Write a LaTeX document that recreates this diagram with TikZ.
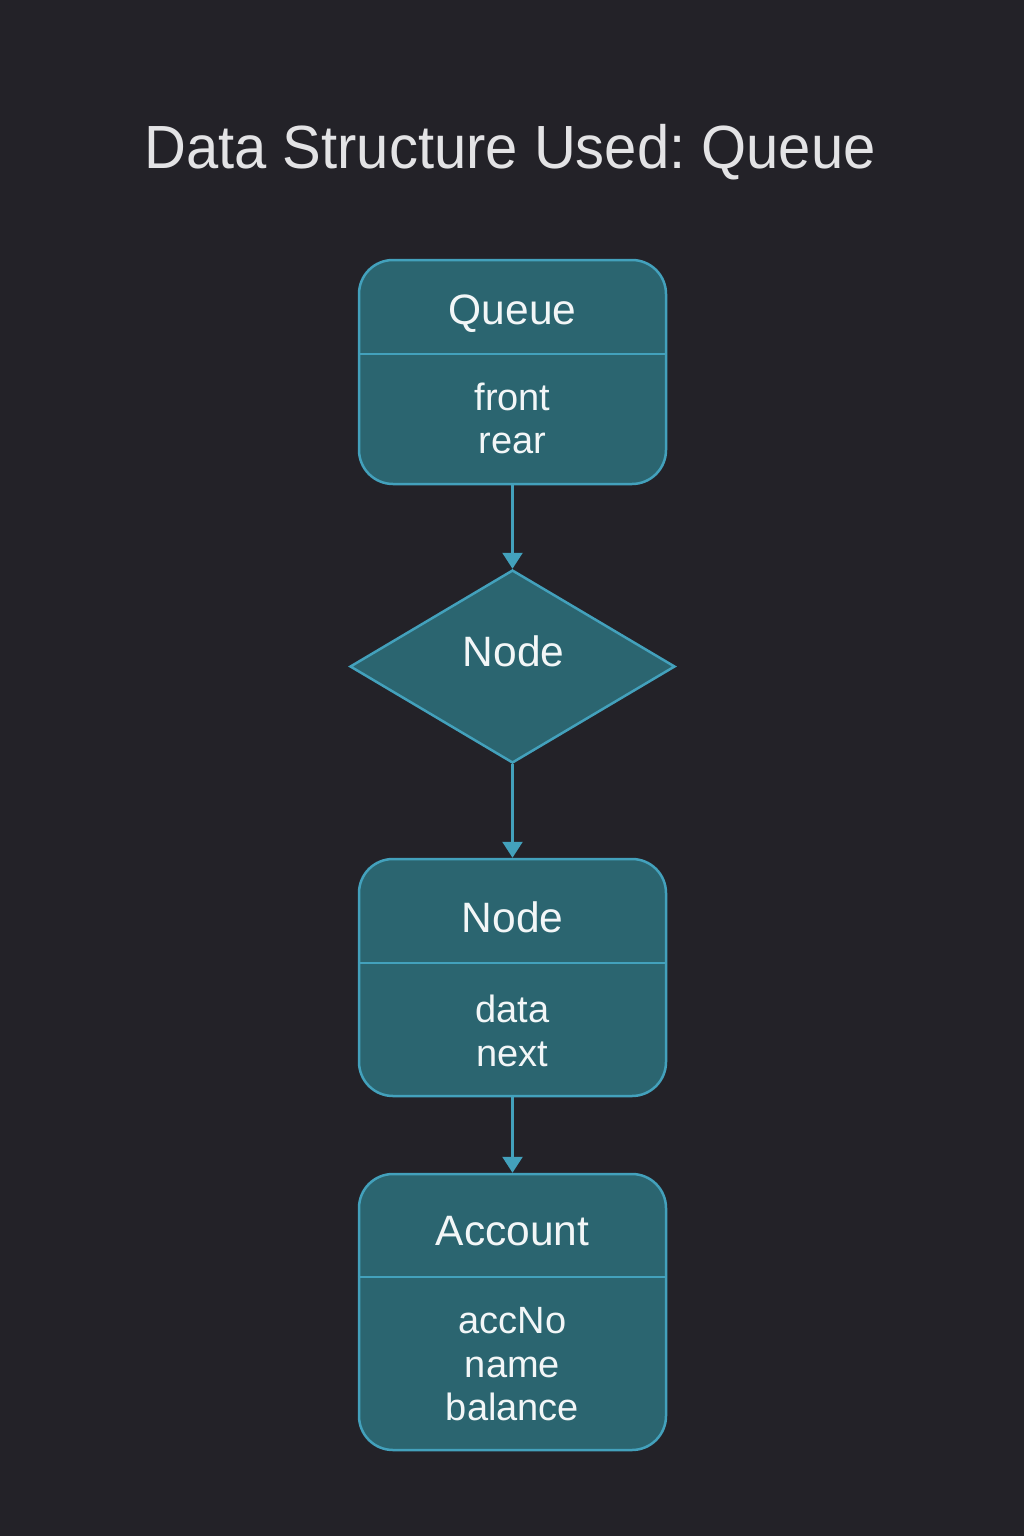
\documentclass[tikz,border=0pt]{standalone}
\usepackage{fontspec}
\setmainfont{Liberation Sans}
\newfontfamily\titlefont[FakeStretch=0.95]{Liberation Sans}
\usetikzlibrary{shapes.geometric,arrows.meta}
\definecolor{bg}{HTML}{232228}
\definecolor{boxfill}{HTML}{2B6570}
\definecolor{edge}{HTML}{43A1BC}
\definecolor{titlecol}{HTML}{E3E3E5}
\definecolor{txt}{HTML}{F2F6F7}
\tikzset{
  umlbox/.style={draw=edge, fill=boxfill, line width=2.5pt, rounded corners=34pt, minimum width=307pt, inner sep=0pt},
  dia/.style={diamond, draw=edge, fill=boxfill, line width=2.5pt, minimum width=325pt, minimum height=193pt, inner sep=0pt},
  divider/.style={draw=edge, line width=2.5pt},
  arr/.style={draw=edge, line width=2.5pt, -{Triangle[length=16pt,width=20pt]}},
  head/.style={text=txt, anchor=base, font=\fontsize{42.5}{44}\selectfont},
  body/.style={text=txt, anchor=base, font=\fontsize{38}{44}\selectfont},
}
\begin{document}
\frenchspacing
\begin{tikzpicture}[x=1pt,y=-1pt]
\fill[bg] (0,0) rectangle (1024,1536);
\useasboundingbox (0,0) rectangle (1024,1536);
\node[text=titlecol, anchor=base, font=\titlefont\fontsize{61}{70}\selectfont] (title) at (510,168) {Data Structure Used: Queue};
% Queue box
\node[umlbox, minimum height=224pt] (q) at (512.5,372) {};
\draw[divider] (q.west |- 0,354) -- (q.east |- 0,354);
\node[head] (qh) at (512.5,324) {Queue};
\node[body] (qb1) at (512.5,410) {front};
\node[body] (qb2) at (512.5,453) {rear};
% Diamond
\node[dia] (d) at (512.5,666.5) {};
\node[head] (dh) at (513.5,666) {Node};
% Node box
\node[umlbox, minimum height=237pt] (n) at (512.5,977.5) {};
\draw[divider] (n.west |- 0,963) -- (n.east |- 0,963);
\node[head] (nh) at (512.5,932) {Node};
\node[body] (nb1) at (512.5,1022) {data};
\node[body] (nb2) at (512.5,1066) {next};
% Account box
\node[umlbox, minimum height=276pt] (a) at (512.5,1312) {};
\draw[divider] (a.west |- 0,1277) -- (a.east |- 0,1277);
\node[head] (ah) at (512.5,1245) {Account};
\node[body] (ab1) at (512.5,1333) {accNo};
\node[body] (ab2) at (512.5,1377) {name};
\node[body] (ab3) at (512.5,1420) {balance};
% connectors
\draw[arr] (q.south) -- (d.north);
\draw[arr] (d.south) -- (n.north);
\draw[arr] (n.south) -- (a.north);
\end{tikzpicture}
\end{document}
